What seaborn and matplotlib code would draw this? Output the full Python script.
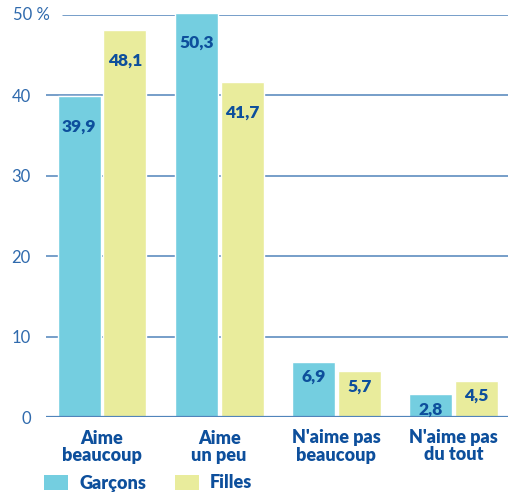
import pandas as pd
import seaborn as sns
import matplotlib.pyplot as plt
import matplotlib.transforms as mtransforms
from matplotlib.patches import Patch

# Data
categories = ['Aime\nbeaucoup', 'Aime\nun peu', "N'aime pas\nbeaucoup", "N'aime pas\ndu tout"]
garcons = [39.9, 50.3, 6.9, 2.8]
filles = [48.1, 41.7, 5.7, 4.5]
series = ['Garçons', 'Filles']
y_ticks = [0, 10, 20, 30, 40]

df = pd.DataFrame({
    'categorie': categories * 2,
    'serie': [series[0]] * 4 + [series[1]] * 4,
    'valeur': garcons + filles,
})

blue_text = '#0d4f9c'
tick_blue = '#2f6aad'
grid_blue = '#5184bb'
colors = {'Garçons': '#74cee0', 'Filles': '#e9ec9c'}

sns.set_style('white')
plt.rcParams['font.family'] = ['Lato', 'DejaVu Sans']

fig = plt.figure(figsize=(5.08, 4.93), dpi=100)
ax = fig.add_axes([46 / 508, 1 - 417 / 493, 1 - 46 / 508, (417 - 15) / 493])

# gridlines behind bars
for t in y_ticks[1:]:
    ax.axhline(t, color=grid_blue, lw=1.1, zorder=0)
ax.axhline(50, xmin=(63 - 46) / 462, color=grid_blue, lw=1.1, zorder=0)

sns.barplot(data=df, x='categorie', y='valeur', hue='serie', palette=colors,
            saturation=1, width=0.78, gap=0.06, dodge=True, legend=False,
            ax=ax, zorder=2)
for bar in ax.patches:
    bar.set_clip_on(False)

ax.axhline(0, color=grid_blue, lw=1.6, zorder=3)

ax.set_xlim(-0.478, 3.465)
ax.set_ylim(0, 50)
for s in ax.spines.values():
    s.set_visible(False)

ax.set_yticks(y_ticks)
ax.set_yticklabels([str(t) for t in y_ticks], color=tick_blue, fontsize=12)
ax.tick_params(axis='y', length=0, pad=11)
ax.tick_params(axis='x', length=0, pad=9)
ax.set_xticks(range(len(categories)))
ax.set_xticklabels(categories, color=blue_text, fontsize=13, fontweight='heavy',
                   linespacing=1.0)
ax.set_xlabel('')
ax.set_ylabel('')

trans = mtransforms.blended_transform_factory(fig.transFigure, ax.transData)
ax.text(13 / 508, 50, '50 %', transform=trans, color=tick_blue, fontsize=12,
        ha='left', va='center')

# value labels inside the bars
for bar in ax.patches:
    h = bar.get_height()
    if h <= 0:
        continue
    off = -22 if h > 20 else -11
    ax.annotate(f'{h:.1f}'.replace('.', ','),
                (bar.get_x() + bar.get_width() / 2, h),
                xytext=(0, off), textcoords='offset points',
                ha='center', va='center', color=blue_text,
                fontsize=12.5, fontweight='heavy', zorder=4,
                annotation_clip=False)

# legend
handles = [Patch(facecolor=colors[s], edgecolor='none') for s in series]
leg = fig.legend(handles, series, loc='center left',
                 bbox_to_anchor=(44 / 508, 1 - 483 / 493),
                 ncol=2, frameon=False, handlelength=1.35, handleheight=0.9,
                 handletextpad=0.6, columnspacing=1.6, borderpad=0,
                 borderaxespad=0, prop={'weight': 'heavy', 'size': 13})
for t in leg.get_texts():
    t.set_color(blue_text)

fig.savefig('out.png', dpi=100)
